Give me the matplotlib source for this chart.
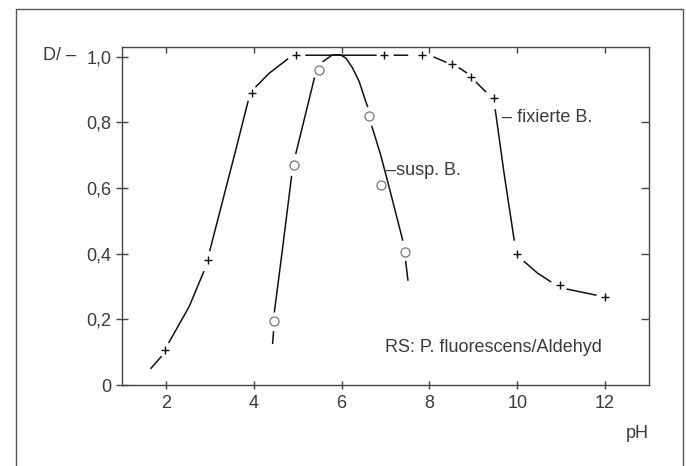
import numpy as np
import matplotlib
matplotlib.use("Agg")
import matplotlib.pyplot as plt
from matplotlib.patches import Rectangle

plt.rcParams['font.family'] = ['Liberation Sans', 'DejaVu Sans']

nan = np.nan

# fixierte B. : measured points (+)
fix_x = [1.97, 2.96, 3.96, 4.96, 6.96, 7.82, 8.52, 8.94, 9.46, 10.0, 10.97, 12.0]
fix_y = [0.107, 0.381, 0.889, 1.005, 1.005, 1.005, 0.978, 0.94, 0.874, 0.40, 0.305, 0.267]

# fixierte B. : hand drawn curve, nan = gap at a marker
fix_curve_x = [1.66, 1.89, nan, 2.07, 2.53, 2.86, nan,
               3.0, 3.59, 3.87, nan, 4.05, 4.35, 4.77, nan,
               5.19, 6.78, nan, 7.2, 7.5, nan, 8.11, 8.37, nan,
               8.68, 8.84, nan, 9.07, 9.28, nan,
               9.50, 9.70, 9.93, nan,
               10.16, 10.46, 10.76, nan, 11.14, 11.79]
fix_curve_y = [0.051, 0.086, nan, 0.13, 0.239, 0.345, nan,
               0.41, 0.716, 0.864, nan, 0.909, 0.95, 0.993, nan,
               1.005, 1.005, nan, 1.005, 1.005, nan, 0.999, 0.984, nan,
               0.966, 0.952, nan, 0.922, 0.894, nan,
               0.838, 0.645, 0.442, nan,
               0.376, 0.341, 0.315, nan, 0.292, 0.274]

# susp. B. : measured points (o)
susp_x = [4.45, 4.92, 5.49, 6.63, 6.89, 7.44]
susp_y = [0.196, 0.671, 0.96, 0.821, 0.61, 0.405]

susp_curve_x = [4.43, 4.45, nan, 4.47, 4.65, 4.86, nan,
                4.96, 5.38, nan,
                5.58, 5.79, 5.98, 6.10, 6.25, 6.40, 6.55, 6.59, nan,
                6.69, 6.89, 7.05, 7.39, nan, 7.46, 7.51]
susp_curve_y = [0.127, 0.162, nan, 0.223, 0.41, 0.635, nan,
                0.706, 0.935, nan,
                0.986, 1.006, 1.006, 0.996, 0.966, 0.925, 0.864, 0.849, nan,
                0.788, 0.701, 0.62, 0.442, nan, 0.376, 0.32]

xticks = [2, 4, 6, 8, 10, 12]
yticks = [0, 0.2, 0.4, 0.6, 0.8, 1.0]
ytick_labels = ['0', '0,2', '0,4', '0,6', '0,8', '1,0']

txt = '#3a3a3a'
fs = 13

fig = plt.figure(figsize=(6.86, 4.66), dpi=100)
ax = fig.add_axes([122 / 686, 1 - 385 / 466, (649 - 122) / 686, 338 / 466])

ax.plot(fix_curve_x, fix_curve_y, color='#111111', lw=1.1, zorder=2)
ax.plot(susp_curve_x, susp_curve_y, color='#111111', lw=1.1, zorder=2)
ax.plot(fix_x, fix_y, ls='none', marker='+', ms=6, mew=1.0, color='#111111', zorder=3)
ax.plot(susp_x, susp_y, ls='none', marker='o', ms=6.5, mew=0.9,
        mfc='white', mec='#777777', zorder=3)

ax.set_xlim(1, 13)
ax.set_ylim(0, 1.03)
ax.set_xticks(xticks)
ax.set_yticks(yticks)
ax.set_yticklabels(ytick_labels)

for s in ax.spines.values():
    s.set_color('#444444')
    s.set_linewidth(1.0)

ax.tick_params(axis='x', direction='inout', length=6, width=1.0, color='#444444',
               labelsize=fs, labelcolor=txt, pad=4)
ax.tick_params(axis='y', direction='inout', length=9, width=1.0, color='#444444',
               labelsize=fs, labelcolor=txt, pad=3)

top = ax.secondary_xaxis('top')
top.set_xticks(xticks)
top.tick_params(direction='in', length=4, width=1.0, color='#444444', labeltop=False)
top.spines['top'].set_visible(False)
right = ax.secondary_yaxis('right')
right.set_yticks([0.2, 0.4, 0.6, 0.8])
right.tick_params(direction='in', length=6, width=1.0, color='#444444', labelright=False)
right.spines['right'].set_visible(False)

ax.text(9.655, 0.816, '– fixierte B.', fontsize=fs, color=txt, va='center', ha='left')
ax.text(7.01, 0.654, '–susp. B.', fontsize=fs, color=txt, va='center', ha='left')
ax.text(6.99, 0.113, 'RS: P. fluorescens/Aldehyd', fontsize=fs, color=txt,
        va='center', ha='left')

fig.text(43 / 686, 1 - 55 / 466, 'D/ –', fontsize=fs, color=txt, va='center', ha='left')
fig.text(649 / 686, 1 - 433 / 466, 'pH', fontsize=fs, color=txt, va='center', ha='right')

fig.patches.append(Rectangle((15.7 / 686, -0.05), (682.7 - 15.7) / 686, 1.05 - 9.3 / 466,
                             transform=fig.transFigure, fill=False,
                             edgecolor='#555555', lw=1.0))

fig.savefig('out.png', dpi=100)
